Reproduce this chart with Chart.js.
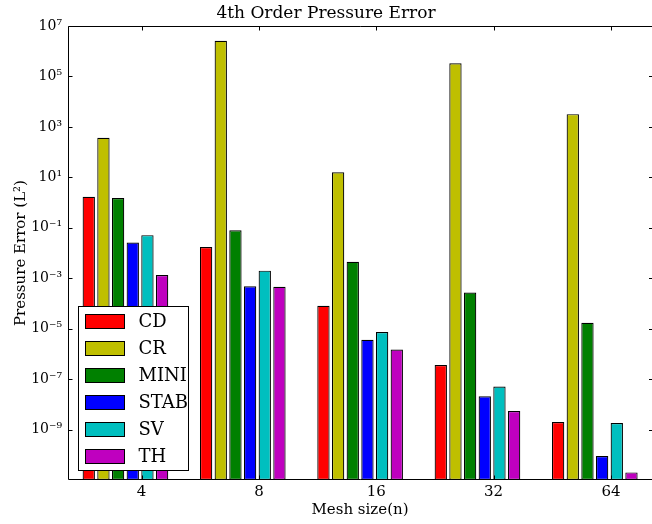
<!DOCTYPE html>
<html>
<head>
<meta charset="utf-8">
<script src="https://cdn.jsdelivr.net/npm/chart.js@4"></script>
<style>
  html, body { margin: 0; padding: 0; background: #fff; }
  #wrap { width: 652px; height: 524px; }
</style>
</head>
<body>
<div id="wrap"><canvas id="chart" width="652" height="524"></canvas></div>
<script>
const meshSizes = ['4', '8', '16', '32', '64'];
const methods = ['CD', 'CR', 'MINI', 'STAB', 'SV', 'TH'];
const colors = ['#ff0000', '#bfbf00', '#008000', '#0000ff', '#00bfbf', '#bf00bf'];

const cdErr   = [1.7, 0.0173, 8.1e-5, 3.6e-7, 2.0e-9];
const crErr   = [370, 2.6e6, 15.8, 3.3e5, 3.2e3];
const miniErr = [1.5, 0.079, 4.5e-3, 2.7e-4, 1.7e-5];
const stabErr = [0.026, 4.8e-4, 3.6e-6, 2.1e-8, 8.9e-11];
const svErr   = [0.051, 2.0e-3, 7.4e-6, 5.1e-8, 1.8e-9];
const thErr   = [1.34e-3, 4.6e-4, 1.5e-6, 5.4e-9, 2.0e-11];

const yTickExps = [-9, -7, -5, -3, -1, 1, 3, 5, 7];

const SERIF = '"DejaVu Serif", serif';
const GROUP_SHIFT = 0.1375; // matplotlib bars start at x-0.5, ticks sit at x

const SUP = { '-': '\u207b', '0': '\u2070', '1': '\u00b9', '2': '\u00b2', '3': '\u00b3',
  '4': '\u2074', '5': '\u2075', '6': '\u2076', '7': '\u2077', '8': '\u2078', '9': '\u2079' };
const sup = s => String(s).split('').map(c => SUP[c] || c).join('');

const allSeries = [cdErr, crErr, miniErr, stabErr, svErr, thErr];

// frame, inward ticks and boxed legend, like the old matplotlib look
// (the right spine falls just outside the picture, only its ticks show)
const framePlugin = {
  id: 'frame',
  afterDatasetsDraw(chart) {
    const { ctx, chartArea: a, scales: { x, y } } = chart;
    const L = Math.round(a.left) + 0.5, R = Math.round(a.right);
    const T = Math.round(a.top) + 0.5, B = Math.round(a.bottom) - 0.5;
    ctx.save();
    ctx.strokeStyle = '#000';
    ctx.lineWidth = 1;
    ctx.beginPath();
    ctx.moveTo(R, T); ctx.lineTo(L, T); ctx.lineTo(L, B); ctx.lineTo(R, B);
    x.ticks.forEach(t => {
      const px = Math.round(x.getPixelForValue(t.value)) + 0.5;
      ctx.moveTo(px, B); ctx.lineTo(px, B - 4);
      ctx.moveTo(px, T); ctx.lineTo(px, T + 4);
    });
    y.ticks.forEach(t => {
      const py = Math.round(y.getPixelForValue(t.value)) + 0.5;
      ctx.moveTo(L, py); ctx.lineTo(L + 4, py);
      ctx.moveTo(R, py); ctx.lineTo(R - 3, py);
    });
    ctx.stroke();

    // legend box
    const bx = L + 10, by = 306.5, bw = 110, bh = 164;
    ctx.fillStyle = '#fff';
    ctx.fillRect(bx, by, bw, bh);
    ctx.strokeRect(bx, by, bw, bh);
    ctx.font = '18px ' + SERIF;
    ctx.textBaseline = 'middle';
    chart.data.datasets.forEach((ds, i) => {
      const cy = 321.5 + i * 27;
      ctx.fillStyle = ds.backgroundColor;
      ctx.fillRect(bx + 7, cy - 7, 39, 14);
      ctx.strokeRect(bx + 7, cy - 7, 39, 14);
      ctx.fillStyle = '#000';
      ctx.fillText(ds.label, bx + 60, cy + 1);
    });
    ctx.restore();
  }
};

new Chart(document.getElementById('chart'), {
  type: 'bar',
  data: {
    datasets: methods.map((name, k) => ({
      label: name,
      data: allSeries[k].map((v, i) => ({ x: i - GROUP_SHIFT, y: v })),
      backgroundColor: colors[k],
      borderColor: '#000',
      borderWidth: 1.2,
      borderSkipped: false,
      categoryPercentage: 0.75,
      barPercentage: 0.84
    }))
  },
  options: {
    responsive: false,
    animation: false,
    devicePixelRatio: 1,
    layout: { padding: 0 },
    plugins: {
      legend: { display: false },
      tooltip: { enabled: false },
      title: {
        display: true,
        text: '4th Order Pressure Error',
        color: '#000',
        font: { family: SERIF, size: 17, weight: 'normal' },
        padding: { top: 3, bottom: 2.6 }
      }
    },
    scales: {
      x: {
        type: 'linear',
        offset: false,
        min: -0.627,
        max: 4.35,
        grid: { display: false, drawTicks: false, offset: false },
        border: { display: false },
        afterBuildTicks: s => { s.ticks = meshSizes.map((_, i) => ({ value: i })); },
        afterFit: s => { s.height = 44; },
        ticks: {
          color: '#000',
          font: { family: SERIF, size: 15 },
          padding: 3,
          autoSkip: false,
          maxRotation: 0,
          callback: v => Number.isInteger(v) ? meshSizes[v] : ''
        },
        title: {
          display: true,
          text: 'Mesh size(n)',
          color: '#000',
          font: { family: SERIF, size: 15 },
          padding: { top: 0, bottom: 5 }
        }
      },
      y: {
        type: 'logarithmic',
        min: 1e-11,
        max: 1e7,
        grid: { display: false, drawTicks: false },
        border: { display: false },
        afterBuildTicks: s => { s.ticks = yTickExps.map(e => ({ value: Math.pow(10, e) })); },
        afterFit: s => { s.width = 68; },
        ticks: {
          color: '#000',
          font: { family: SERIF, size: 14 },
          padding: 6,
          autoSkip: false,
          callback: v => '10' + sup(Math.round(Math.log10(v)))
        },
        title: {
          display: true,
          text: 'Pressure Error (L\u00b2)',
          color: '#000',
          font: { family: SERIF, size: 15 },
          padding: { top: 12, bottom: 0 }
        }
      }
    }
  },
  plugins: [framePlugin]
});
</script>
</body>
</html>
